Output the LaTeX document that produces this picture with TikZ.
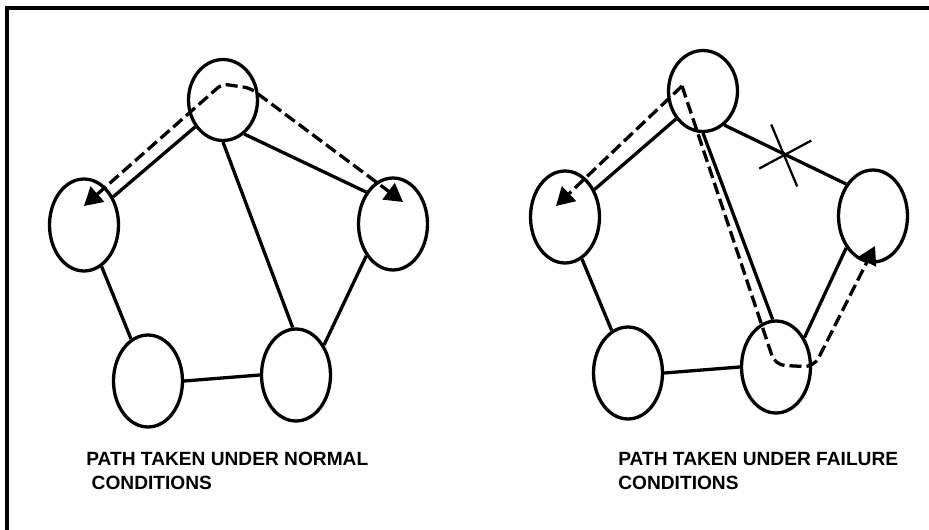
\documentclass[tikz,border=0pt]{standalone}
\usepackage{fontspec}
\setmainfont{Liberation Sans}
\usetikzlibrary{shapes.geometric,arrows.meta,calc}
\begin{document}
\begin{tikzpicture}[x=0.02cm,y=-0.02cm,
  nd/.style={ellipse,draw,line width=0.066cm,minimum width=1.38cm,minimum height=1.84cm,inner sep=0pt},
  ndtop/.style={nd,minimum height=1.62cm},
  link/.style={line width=0.066cm},
  dpath/.style={line width=0.066cm,dash pattern=on 0.24cm off 0.1cm},
  tip/.style={-{Triangle[length=0.36cm,width=0.4cm]}},
  tips/.style={{Triangle[length=0.36cm,width=0.4cm]}-{Triangle[length=0.36cm,width=0.4cm]}},
  lbl/.style={anchor=north west,inner sep=0pt,align=left,font=\fontsize{10.9}{13.66}\selectfont\bfseries},
  xmark/.style={line width=0.045cm}]
\useasboundingbox (0,0) rectangle (929,530);
% frame
\draw[line width=0.07cm] (929,8) -- (7,8) -- (7,530);

% ---------- left diagram ----------
\node[ndtop] (T1) at (223,100) {};
\node[nd] (L1) at (84,225) {};
\node[nd] (R1) at (393,224) {};
\node[nd] (BL1) at (148,381) {};
\node[nd] (BR1) at (296,375) {};
\draw[link] (T1.-136) -- (L1.44);
\draw[link] (T1.-58) -- (R1.130);
\draw[link] (T1.-90) -- (BR1.94);
\draw[link] (L1.-67) -- (BL1.112);
\draw[link] (R1.-130) -- (BR1.47);
\draw[link] (BL1.0) -- (BR1.180);
\coordinate (a1) at (84,206);
\coordinate (a2) at (222,84);
\coordinate (a3) at (250,88);
\coordinate (a4) at (403,202);
\draw[dpath,tips,rounded corners=0.12cm] (a1) -- (a2) -- (a3) -- (a4);

% ---------- right diagram ----------
\node[ndtop] (T2) at (703,91) {};
\node[nd] (L2) at (565,217) {};
\node[nd] (R2) at (873,216) {};
\node[nd] (BL2) at (628,373) {};
\node[nd] (BR2) at (776,367) {};
\draw[link] (T2.-134) -- (L2.43);
\draw[link] (T2.-58) -- (R2.130);
\draw[link] (T2.-90) -- (BR2.94);
\draw[link] (L2.-68) -- (BL2.111);
\draw[link] (R2.-130) -- (BR2.46);
\draw[link] (BL2.0) -- (BR2.180);
\coordinate (xc) at ($(T2.-58)!0.5!(R2.130)$);
\draw[xmark] ($(xc)+(-14,-30)$) -- ($(xc)+(12,32)$);
\draw[xmark] ($(xc)+(-26,14)$) -- ($(xc)+(26,-14)$);
\coordinate (b0) at (682,86);
\coordinate (b1) at (556,206);
\coordinate (b2) at (775,365);
\coordinate (b3) at (814,367);
\coordinate (b4) at (875,246);
\draw[dpath,tip] (b0) -- (b1);
\draw[dpath,tip,rounded corners=0.2cm] (b0) -- (b2) -- (b3) -- (b4);

% ---------- labels ----------
\node[lbl] (lab1) at (86,452) {PATH TAKEN UNDER NORMAL\\\hspace*{0.28em}CONDITIONS};
\node[lbl] (lab2) at (618,452) {PATH TAKEN UNDER FAILURE\\CONDITIONS};
\end{tikzpicture}
\end{document}
